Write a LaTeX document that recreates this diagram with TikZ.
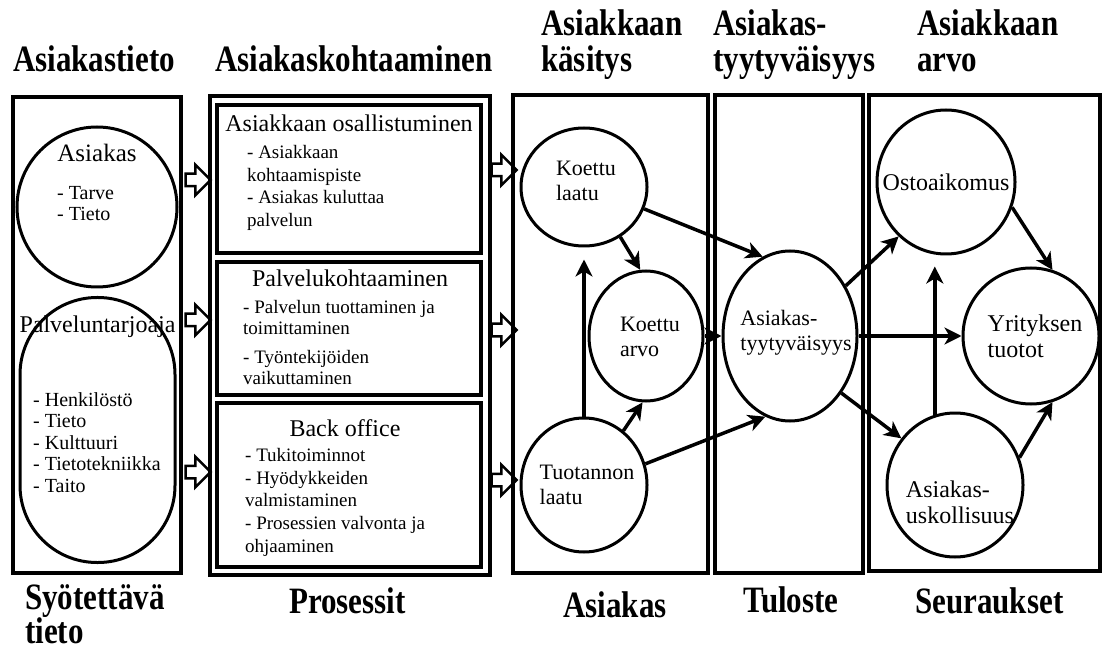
\documentclass[tikz,border=0pt]{standalone}
\usepackage{fontspec}
\setmainfont{Liberation Serif}
\usepackage{graphicx}
\usetikzlibrary{shapes, shapes.arrows, arrows.meta, positioning}

\newcommand{\tall}[1]{\scalebox{1}[1.2]{#1}}

\tikzset{
	frame/.style = {draw, line width=4pt},
	subbox/.style = {draw, line width=3.5pt},
	bubble/.style = {draw, ellipse, line width=3pt, inner sep=0pt},
	hollow/.style = {draw, single arrow, line width=2.5pt, minimum height=25pt, single arrow head extend=9pt, inner sep=5pt},
	line/.style = {draw, line width=3.5pt, -{Stealth[length=17pt, width=17pt, inset=5pt]}},
	head/.style = {inner sep=0pt, anchor=base west, font=\bfseries\fontsize{31}{31}\selectfont},
	ctext/.style = {inner sep=0pt, align=left, font=\fontsize{22}{25}\selectfont},
	rtext/.style = {inner sep=0pt, align=left, font=\fontsize{24}{26}\selectfont},
	title/.style = {inner sep=0pt, font=\fontsize{24}{26}\selectfont},
	items/.style = {inner sep=0pt, align=left, anchor=north west, font=\fontsize{19}{22.7}\selectfont},
}

\begin{document}
\begin{tikzpicture}[x=1pt, y=-1pt, node distance = 1cm, auto]
			\useasboundingbox (0,0) rectangle (1103,652);
			% headings
			\node [head] (h1) at (13,72) {\tall{Asiakastieto}};
			\node [head] (h2) at (215,72) {\tall{Asiakaskohtaaminen}};
			\node [head] (h3a) at (541,36) {\tall{Asiakkaan}};
			\node [head] (h3b) at (541,72) {\tall{käsitys}};
			\node [head] (h4a) at (713,36) {\tall{Asiakas-}};
			\node [head] (h4b) at (713,72) {\tall{tyytyväisyys}};
			\node [head] (h5a) at (917,36) {\tall{Asiakkaan}};
			\node [head] (h5b) at (917,72) {\tall{arvo}};
			\node [head] (f1a) at (25,609) {\tall{Syötettävä}};
			\node [head] (f1b) at (25,643) {\tall{tieto}};
			\node [head] (f2) at (289,613) {\tall{Prosessit}};
			\node [head] (f3) at (563,617) {\tall{Asiakas}};
			\node [head] (f4) at (743,612) {\tall{Tuloste}};
			\node [head] (f5) at (915,613) {\tall{Seuraukset}};
			% columns
			\draw [frame] (13,97) rectangle (181,573);
			\draw [frame] (210,96) rectangle (490,575);
			\draw [frame] (513,95) rectangle (708,573);
			\draw [frame] (715,95) rectangle (863,573);
			\draw [frame] (869,95) rectangle (1100,571);
			% input
			\node [bubble, circle, minimum size=160pt] (asiakas) at (97,207) {};
			\node [title, font=\fontsize{25}{27}\selectfont] (asiakasT) at (97,153) {Asiakas};
			\node [items, font=\fontsize{20}{21.5}\selectfont] (asiakasL) at (57,186) {- Tarve\\- Tieto};
			\node [draw, line width=3pt, rounded corners=77pt, minimum width=155pt, minimum height=265pt] (tarjoaja) at (97.5,430) {};
			\node [title, font=\fontsize{24}{27}\selectfont] (tarjoajaT) at (97.5,327) {Palveluntarjoaja};
			\node [items, font=\fontsize{20}{21.5}\selectfont] (tarjoajaL) at (33,392) {- Henkilöstö\\- Tieto\\- Kulttuuri\\- Tietotekniikka\\- Taito};
			% processes
			\draw [subbox] (217,105) rectangle (481,253);
			\draw [subbox] (217,262) rectangle (481,395);
			\draw [subbox] (217,403) rectangle (481,567);
			\node [title] (osallT) at (349,123) {Asiakkaan osallistuminen};
			\node [items] (osallL) at (247,145) {- Asiakkaan\\kohtaamispiste\\- Asiakas kuluttaa\\palvelun};
			\node [title] (palveluT) at (350,278) {Palvelukohtaaminen};
			\node [items, font=\fontsize{19}{21}\selectfont] (palveluL) at (243,300) {- Palvelun tuottaminen ja\\toimittaminen\\[8pt]- Työntekijöiden\\vaikuttaminen};
			\node [title] (backT) at (345,428) {Back office};
			\node [items] (backL) at (245,448) {- Tukitoiminnot\\- Hyödykkeiden\\valmistaminen\\- Prosessien valvonta ja\\ohjaaminen};
			% hollow arrows
			\node [hollow] (a1) at (195,180) {};
			\node [hollow] (a2) at (195,320) {};
			\node [hollow] (a3) at (195,472) {};
			\node [hollow] (a4) at (501,170) {};
			\node [hollow] (a5) at (501,330) {};
			\node [hollow] (a6) at (501,480) {};
			% customer
			\node [bubble, minimum width=126pt, minimum height=118pt] (kl) at (584,187) {};
			\node [ctext] at (586,181) {Koettu\\laatu};
			\node [bubble, minimum width=114pt, minimum height=130pt] (ka) at (646,336) {};
			\node [ctext] at (650,337) {Koettu\\arvo};
			\node [bubble, minimum width=126pt, minimum height=134pt] (tl) at (584,485) {};
			\node [ctext] at (587,485) {Tuotannon\\laatu};
			\node [bubble, minimum width=134pt, minimum height=170pt] (ats) at (790,336) {};
			\node [ctext] at (796,333) {Asiakas-\\tyytyväisyys};
			% consequences
			\node [bubble, minimum width=138pt, minimum height=144pt] (oa) at (946,182) {};
			\node [rtext] at (946,182) {Ostoaikomus};
			\node [bubble, minimum width=136pt, minimum height=136pt] (yt) at (1031,336) {};
			\node [rtext] at (1035,336) {Yrityksen\\tuotot};
			\node [bubble, minimum width=136pt, minimum height=144pt] (au) at (955,485) {};
			\node [rtext] at (960,502) {Asiakas-\\uskollisuus};
			% links
			\path [line] (kl.-20) -- (ats.109);
			\path [line] (kl.-54) -- (ka.95);
			\path [line, shorten >=12pt] (tl) -- (kl);
			\path [line] (tl.54) -- (ka.-93);
			\path [line] (tl.19) -- (ats.-107);
			\path [line] (ka) -- (ats);
			\path [line] (ats.42) -- (oa.-131);
			\path [line] (ats) -- (yt);
			\path [line] (ats.-48) -- (au.139);
			\path [line, shorten >=11pt] (au.106) -- (au.106 |- oa.south);
			\path [line] (oa.-21) -- (yt.72);
			\path [line] (au.23) -- (yt.-72);
		\end{tikzpicture}
\end{document}
